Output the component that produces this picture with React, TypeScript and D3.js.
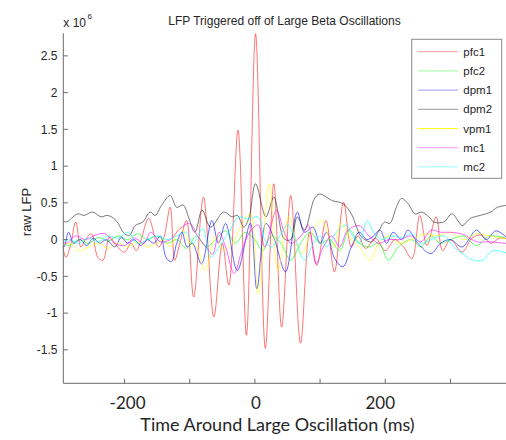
import React from 'react';
import * as d3 from 'd3';

// Time (ms) vs raw LFP (x 10^6)
const seriesNames = ['pfc1', 'pfc2', 'dpm1', 'dpm2', 'vpm1', 'mc1', 'mc2'];
const seriesColors = ['#ff0000', '#00ff00', '#0000ff', '#000000', '#ffff00', '#ff00ff', '#00ffff'];

const pfc1: [number, number][] = [
  [-298, 0.09], [-290, -0.24], [-283, -0.08], [-275, 0.24], [-267, -0.1], [-260, 0.0], [-251, 0.08],
  [-241, -0.24], [-233, -0.28], [-223, 0.04], [-213, -0.08], [-200, -0.17], [-190, -0.05], [-182, -0.15],
  [-175, -0.01], [-163, 0.29], [-148, -0.1], [-140, 0.02], [-130, 0.44], [-123, -0.28], [-116, -0.08],
  [-105, 0.26], [-94, -0.78], [-79, 0.58], [-63, -1.05], [-50, -0.05], [-40, -0.62], [-26, 1.49],
  [-13, -1.3], [1, 2.8], [16, -1.48], [29, 0.76], [41, -1.19], [55, 0.6], [70, -1.41], [84, 0.1],
  [95, -0.35], [109, 0.26], [122, -0.44], [136, 0.51], [148, -0.1], [158, 0.05], [170, -0.12],
  [185, 0.02], [200, -0.15], [215, 0.0], [228, -0.1], [241, -0.26], [253, 0.33], [264, -0.08],
  [278, 0.31], [288, -0.15], [300, 0.0], [318, -0.17], [333, 0.02], [348, 0.06], [362, -0.05],
  [376, 0.02], [392, 0.0],
];

const pfc2: [number, number][] = [
  [-300, -0.03], [-285, -0.08], [-270, 0.0], [-255, -0.05], [-240, 0.03], [-225, -0.02], [-210, 0.05],
  [-195, 0.0], [-180, 0.08], [-165, 0.0], [-150, 0.05], [-135, -0.05], [-120, 0.0], [-105, -0.12],
  [-90, 0.05], [-75, -0.1], [-60, 0.0], [-45, 0.12], [-30, -0.05], [-15, 0.1], [0, 0.0], [12, -0.15],
  [25, 0.05], [40, -0.05], [55, -0.28], [70, -0.05], [85, 0.1], [100, -0.05], [115, 0.0], [130, -0.15],
  [145, 0.13], [160, -0.05], [175, -0.1], [190, -0.05], [205, -0.28], [220, -0.1], [240, 0.0],
  [255, -0.1], [270, 0.05], [285, -0.05], [300, 0.0], [320, 0.05], [340, -0.08], [360, 0.05], [392, 0.0],
];

const dpm1: [number, number][] = [
  [-300, 0.05], [-293, -0.1], [-286, 0.1], [-278, -0.05], [-268, 0.0], [-258, -0.08], [-248, 0.02],
  [-238, -0.05], [-228, 0.0], [-215, -0.1], [-205, 0.03], [-195, -0.05], [-185, 0.0], [-175, -0.08],
  [-165, 0.0], [-155, -0.05], [-145, 0.05], [-136, -0.25], [-128, -0.3], [-120, -0.05], [-112, 0.1],
  [-104, -0.1], [-96, -0.05], [-82, -0.33], [-66, 0.26], [-56, -0.05], [-45, 0.22], [-27, -0.42],
  [-7, 0.22], [3, -0.67], [17, 0.22], [30, 0.0], [47, -0.44], [65, 0.375], [76, 0.1], [89, 0.17],
  [100, -0.05], [110, 0.1], [122, -0.25], [135, -0.37], [148, -0.1], [160, 0.1], [172, 0.0], [182, 0.05],
  [192, 0.13], [202, -0.05], [212, 0.1], [225, 0.0], [235, 0.13], [250, -0.05], [270, -0.19],
  [285, -0.05], [300, 0.0], [318, -0.1], [340, 0.13], [355, 0.0], [370, 0.12], [392, -0.02],
];

const dpm2: [number, number][] = [
  [-300, 0.29], [-290, 0.24], [-272, 0.35], [-262, 0.33], [-249, 0.375], [-236, 0.31], [-226, 0.33],
  [-213, 0.26], [-200, 0.08], [-192, 0.06], [-184, 0.19], [-172, 0.24], [-161, 0.375], [-153, 0.33],
  [-143, 0.47], [-130, 0.6], [-120, 0.44], [-110, 0.47], [-102, 0.31], [-92, 0.1], [-81, 0.4],
  [-68, 0.17], [-48, 0.375], [-35, 0.31], [-27, 0.33], [-17, 0.17], [-9, 0.3], [1, 0.76], [17, 0.31],
  [29, 0.58], [45, 0.01], [55, 0.0], [65, 0.31], [76, 0.13], [91, 0.55], [99, 0.62], [119, 0.53],
  [135, 0.49], [148, 0.35], [156, 0.17], [163, 0.04], [179, -0.03], [189, 0.1], [199, 0.24], [207, 0.22],
  [217, 0.44], [225, 0.56], [235, 0.49], [246, 0.35], [256, 0.375], [269, 0.29], [274, 0.24],
  [290, 0.24], [302, 0.35], [313, 0.24], [318, 0.19], [331, 0.29], [346, 0.33], [362, 0.375],
  [372, 0.44], [392, 0.47],
];

const vpm1: [number, number][] = [
  [-300, -0.1], [-285, -0.05], [-270, -0.15], [-255, -0.1], [-240, -0.05], [-225, -0.12], [-210, -0.05],
  [-195, -0.1], [-180, -0.03], [-165, -0.1], [-150, -0.05], [-140, 0.0], [-130, -0.1], [-115, 0.17],
  [-100, -0.05], [-90, -0.1], [-76, -0.42], [-60, 0.05], [-48, -0.15], [-35, -0.05], [-20, 0.2],
  [-7, 0.35], [5, -0.73], [22, 0.76], [35, -0.42], [52, 0.31], [62, 0.0], [72, -0.2], [84, 0.05],
  [102, 0.26], [115, 0.0], [122, -0.1], [132, 0.22], [148, 0.0], [160, -0.1], [177, -0.28], [190, -0.05],
  [205, 0.05], [220, -0.05], [240, 0.0], [260, 0.08], [280, 0.05], [300, 0.1], [320, 0.0], [340, 0.08],
  [360, 0.05], [392, 0.0],
];

const mc1: [number, number][] = [
  [-300, 0.0], [-290, -0.05], [-275, 0.05], [-260, 0.0], [-245, 0.06], [-230, 0.08], [-215, -0.05],
  [-200, -0.08], [-185, 0.02], [-170, -0.05], [-160, 0.1], [-145, -0.03], [-130, 0.0], [-115, 0.15],
  [-100, 0.22], [-88, 0.05], [-75, -0.1], [-65, -0.2], [-55, 0.1], [-45, -0.1], [-32, -0.46],
  [-20, -0.15], [-8, 0.1], [5, 0.2], [15, -0.1], [33, 0.4], [45, 0.1], [55, -0.05], [65, 0.0], [75, 0.1],
  [82, 0.2], [94, -0.33], [105, -0.1], [118, 0.05], [130, -0.1], [142, 0.12], [160, 0.19], [175, 0.05],
  [190, -0.05], [205, 0.0], [222, 0.0], [240, 0.05], [255, -0.03], [270, 0.13], [285, 0.1], [300, 0.1],
  [320, 0.07], [340, -0.03], [360, -0.03], [392, -0.06],
];

const mc2: [number, number][] = [
  [-300, -0.05], [-285, 0.0], [-270, -0.05], [-255, 0.02], [-240, -0.03], [-225, 0.05], [-210, 0.02],
  [-195, 0.1], [-180, -0.05], [-165, 0.0], [-150, 0.05], [-135, 0.0], [-120, 0.05], [-105, 0.1],
  [-95, -0.05], [-80, 0.15], [-68, -0.24], [-55, -0.1], [-40, 0.1], [-25, 0.31], [-10, 0.28], [5, 0.31],
  [15, 0.0], [25, -0.1], [38, 0.05], [50, 0.2], [60, 0.05], [76, -0.28], [90, -0.05], [100, 0.05],
  [110, -0.1], [125, 0.1], [140, 0.2], [150, 0.05], [160, -0.05], [172, 0.26], [182, 0.1], [195, 0.0],
  [210, 0.05], [225, 0.02], [240, 0.08], [255, -0.05], [270, 0.0], [290, 0.05], [305, -0.1], [320, -0.2],
  [335, -0.28], [350, -0.28], [365, -0.15], [392, -0.2],
];

const seriesData = [pfc1, pfc2, dpm1, dpm2, vpm1, mc1, mc2];

const yTicks = [-1.5, -1, -0.5, 0, 0.5, 1, 1.5, 2, 2.5];
const xTicks = [-200, -100, 0, 100, 200, 300];
const xTickLabels: [number, string][] = [[-200, '-200'], [0, '0'], [200, '200']];

export default function App() {
  const W = 506;
  const H = 440;
  const x = d3.scaleLinear().domain([-294, 400]).range([63.3, 515.6]);
  const y = d3.scaleLinear().domain([-1.955, 2.807]).range([383.3, 33.3]);
  const line = d3
    .line<[number, number]>()
    .x((d) => x(d[0]))
    .y((d) => y(d[1]))
    .curve(d3.curveCatmullRom.alpha(0.5));

  const left = x.range()[0];
  const bottom = y.range()[0];
  const top = y.range()[1];
  const axisColor = '#6a6a6a';
  const sans = 'Liberation Sans, Arial, sans-serif';

  const legX = 411.7;
  const legY = 39.3;
  const legW = 90;
  const legH = 139;

  return (
    <svg width={W} height={H} style={{ position: 'absolute', left: 0, top: 0, background: '#fff' }}>
      <defs>
        <clipPath id="plotclip">
          <rect x={left} y={top - 1} width={W - left} height={bottom - top + 1} />
        </clipPath>
      </defs>
      <rect x={0} y={0} width={W} height={H} fill="#fff" />

      <g clipPath="url(#plotclip)">
        {seriesData.map((s, i) => (
          <path key={seriesNames[i]} d={line(s) || ''} fill="none" stroke={seriesColors[i]}
            strokeWidth={0.75} strokeOpacity={i === 0 ? 0.72 : i === 3 ? 0.7 : 0.8} />
        ))}
      </g>

      {/* axes */}
      <line x1={left} x2={left} y1={top} y2={bottom} stroke={axisColor} strokeWidth={1} />
      <line x1={left} x2={W} y1={bottom} y2={bottom} stroke={axisColor} strokeWidth={1} />
      {yTicks.map((t) => (
        <g key={'y' + t}>
          <line x1={left} x2={left + 4.5} y1={y(t)} y2={y(t)} stroke={axisColor} strokeWidth={1} />
          <text x={57.5} y={y(t) + 4.3} textAnchor="end" fontFamily={sans} fontSize={12} fill="#262626">
            {String(t)}
          </text>
        </g>
      ))}
      {xTicks.map((t) => (
        <line key={'x' + t} x1={x(t)} x2={x(t)} y1={bottom} y2={bottom - 4.5} stroke={axisColor} strokeWidth={1} />
      ))}
      {xTickLabels.map(([t, s]) => (
        <text key={'xl' + t} x={x(t) + (t === 200 ? -5 : t === -200 ? 3 : 1)} y={408.5} textAnchor="middle"
          fontFamily="Lato, 'Open Sans', sans-serif" fontSize={17} fill="#262626">
          {s}
        </text>
      ))}

      {/* exponent */}
      <text x={63.3} y={26.5} fontFamily={sans} fontSize={12} fill="#262626">x 10</text>
      <text x={87.5} y={18.5} fontFamily={sans} fontSize={8} fill="#262626">6</text>

      {/* title */}
      <text x={284.5} y={25} textAnchor="middle" fontFamily={sans} fontSize={12} fill="#262626">
        LFP Triggered off of Large Beta Oscillations
      </text>

      {/* axis labels */}
      <text transform="translate(31,212) rotate(-90)" textAnchor="middle" fontFamily={sans} fontSize={13} fill="#262626">
        raw LFP
      </text>
      <text x={277.5} y={431} textAnchor="middle" fontFamily="Lato, 'Open Sans', sans-serif" fontSize={18} fill="#262626">
        Time Around Large Oscillation (ms)
      </text>

      {/* legend */}
      <rect x={legX} y={legY} width={legW} height={legH} fill="#fff" stroke="#8a8a8a" strokeWidth={1} />
      {seriesNames.map((n, i) => {
        const cy = 51.7 + i * 19.2;
        return (
          <g key={'leg' + n}>
            <line x1={418} x2={458} y1={cy} y2={cy} stroke={seriesColors[i]} strokeWidth={1} strokeOpacity={i === 4 ? 0.9 : 0.4} />
            <text x={463.3} y={cy + 4} fontFamily={sans} fontSize={11.5} fill="#262626">{n}</text>
          </g>
        );
      })}
    </svg>
  );
}
